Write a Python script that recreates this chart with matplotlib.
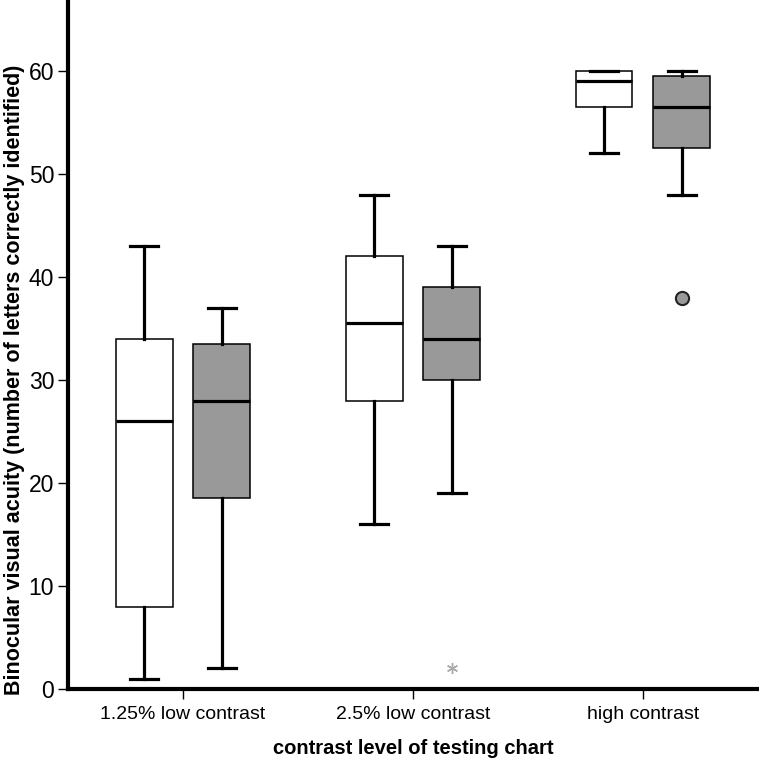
import matplotlib
matplotlib.use("Agg")
import matplotlib.pyplot as plt

plt.rcParams['font.family'] = ['Liberation Sans', 'DejaVu Sans']

groups = ['1.25% low contrast', '2.5% low contrast', 'high contrast']

# five-number summaries: [low whisker, Q1, median, Q3, high whisker]
white_stats = [[1, 8, 26, 34, 43],
               [16, 28, 35.5, 42, 48],
               [52, 56.5, 59, 60, 60]]
grey_stats = [[2, 18.5, 28, 33.5, 37],
              [19, 30, 34, 39, 43],
              [48, 52.5, 56.5, 59.5, 60]]

# outliers: (group index, value)
grey_extreme = [(1, 2)]     # asterisk
grey_outlier = [(2, 38)]    # circle


def to_bxp(rows):
    out = []
    for lo, q1, med, q3, hi in rows:
        out.append({'whislo': lo, 'q1': q1, 'med': med, 'q3': q3,
                    'whishi': hi, 'fliers': []})
    return out


fig = plt.figure(figsize=(7.59, 7.60), dpi=100)
ax = fig.add_axes([0.0896, 0.0934, 0.909, 0.904])

off = 0.169
w = 0.247
pos = list(range(len(groups)))

common = dict(widths=w, patch_artist=True, showfliers=False,
              whiskerprops=dict(color='black', linewidth=2.3),
              capprops=dict(color='black', linewidth=2.3),
              medianprops=dict(color='black', linewidth=2.3),
              capwidths=w * 0.5)

ax.bxp(to_bxp(white_stats), positions=[p - off for p in pos],
       boxprops=dict(facecolor='white', edgecolor='black', linewidth=1.1),
       **common)
ax.bxp(to_bxp(grey_stats), positions=[p + off for p in pos],
       boxprops=dict(facecolor='#999999', edgecolor='black', linewidth=1.1),
       **common)

for g, v in grey_extreme:
    ax.plot(g + off, v, marker=(6, 2, 0), color='#aaaaaa', markersize=8,
            markeredgewidth=1.0, linestyle='none')
for g, v in grey_outlier:
    ax.plot(g + off, v, marker='o', markerfacecolor='#999999',
            markeredgecolor='#222222', markersize=9.5, markeredgewidth=1.5,
            linestyle='none')

ax.set_xlim(-0.5, 2.5)
ax.set_ylim(0, 66.7)
ax.set_xticks(pos)
ax.set_xticklabels(groups, fontsize=14)
ax.set_yticks(range(0, 61, 10))
ax.tick_params(axis='y', labelsize=16.5, length=7, width=1, pad=3)
ax.tick_params(axis='x', length=7, width=1, pad=5)

for s in ['top', 'right']:
    ax.spines[s].set_visible(False)
for s in ['left', 'bottom']:
    ax.spines[s].set_linewidth(3)

ax.set_xlabel('contrast level of testing chart', fontsize=14.5,
              fontweight='bold', labelpad=12)
ax.set_ylabel('Binocular visual acuity (number of letters correctly identified)',
              fontsize=15.5, fontweight='bold')
ax.yaxis.set_label_coords(-0.063, 0.45)

fig.savefig('out.png', dpi=100)
